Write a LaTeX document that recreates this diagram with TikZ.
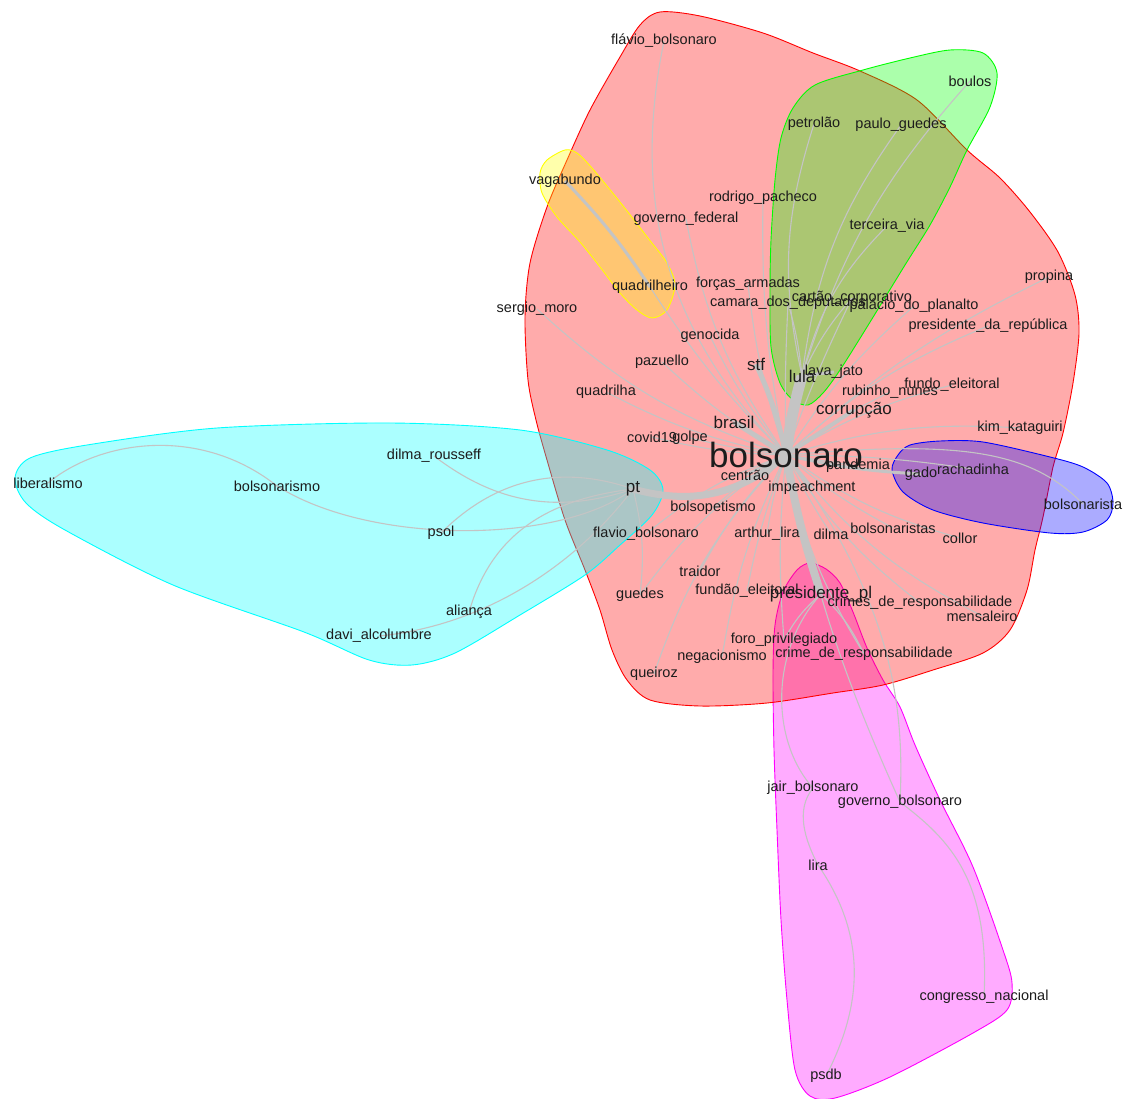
\documentclass[tikz,border=0pt]{standalone}
\usepackage{fontspec}
\setmainfont{Liberation Sans}
\definecolor{edgegray}{RGB}{196,196,196}
\definecolor{txt}{RGB}{28,28,28}
\definecolor{hred}{RGB}{255,0,0}
\definecolor{hgreen}{RGB}{0,255,0}
\definecolor{hyellow}{RGB}{255,255,0}
\definecolor{hcyan}{RGB}{0,255,255}
\definecolor{hblue}{RGB}{0,0,255}
\definecolor{hmag}{RGB}{255,0,255}
\pgfdeclarelayer{bg}
\pgfsetlayers{bg,main}
\begin{document}
\begin{tikzpicture}[x=1pt,y=-1pt,
  lbl/.style={font=\fontsize{14.5}{15}\selectfont, text=txt, inner sep=0pt},
  mid/.style={font=\fontsize{17}{18}\selectfont, text=txt, inner sep=0pt},
  big/.style={font=\fontsize{35}{36}\selectfont, text=txt, inner sep=0pt},
  edge/.style={draw=edgegray, line width=1.1pt},
  hull/.style={line width=0.9pt, fill opacity=0.33}
]
\useasboundingbox (0,0) rectangle (1129,1099);

% ---------- nodes ----------
\node[big] (bol) at (786,455) {bolsonaro};
\node[lbl] (flav) at (664,41) {flávio\_bolsonaro};
\node[lbl] (boul) at (970,81) {boulos};
\node[lbl] (petr) at (814,124) {petrolão};
\node[lbl] (paul) at (901,125) {paulo\_guedes};
\node[lbl] (vaga) at (565,181) {vagabundo};
\node[lbl] (rodp) at (763,198) {rodrigo\_pacheco};
\node[lbl] (govf) at (686,219) {governo\_federal};
\node[lbl] (terc) at (887,226) {terceira\_via};
\node[lbl] (prop) at (1049,277) {propina};
\node[lbl] (quah) at (650,287) {quadrilheiro};
\node[lbl] (forc) at (748,284) {forças\_armadas};
\node[lbl] (cart) at (852,298) {cartão\_corporativo};
\node[lbl] (cama) at (788,303) {camara\_dos\_deputados};
\node[lbl] (pala) at (914,306) {palácio\_do\_planalto};
\node[lbl] (serg) at (537,309) {sergio\_moro};
\node[lbl] (pres) at (988,326) {presidente\_da\_república};
\node[lbl] (geno) at (710,336) {genocida};
\node[lbl] (pazu) at (662,362) {pazuello};
\node[mid] (stf) at (756,364) {stf};
\node[mid] (lula) at (802,376) {lula};
\node[lbl] (lava) at (834,372) {lava\_jato};
\node[lbl] (quad) at (606,392) {quadrilha};
\node[lbl] (rubi) at (890,392) {rubinho\_nunes};
\node[lbl] (fund) at (952,385) {fundo\_eleitoral};
\node[mid] (corr) at (854,410) {corrupção};
\node[mid] (bras) at (734,422) {brasil};
\node[lbl] (kim) at (1020,428) {kim\_kataguiri};
\node[lbl] (dilr) at (434,456) {dilma\_rousseff};
\node[lbl] (covi) at (652,437) {covid19};
\node[lbl] (golp) at (690,438) {golpe};
\node[lbl] (pand) at (858,466) {pandemia};
\node[lbl] (gado) at (921,474) {gado};
\node[lbl] (rach) at (973,469) {rachadinha};
\node[lbl] (cent) at (745,475) {centrão};
\node[lbl] (libe) at (48,483) {liberalismo};
\node[lbl] (bism) at (277,486) {bolsonarismo};
\node[mid] (pt) at (633,489) {pt};
\node[lbl] (impe) at (812,488) {impeachment};
\node[lbl] (bsta) at (1083,504) {bolsonarista};
\node[lbl] (bpet) at (713,508) {bolsopetismo};
\node[lbl] (psol) at (441,533) {psol};
\node[lbl] (flab) at (646,534) {flavio\_bolsonaro};
\node[lbl] (arth) at (767,534) {arthur\_lira};
\node[lbl] (dilm) at (831,534) {dilma};
\node[lbl] (bsts) at (893,528) {bolsonaristas};
\node[lbl] (coll) at (960,538) {collor};
\node[lbl] (trai) at (700,571) {traidor};
\node[lbl] (gued) at (640,595) {guedes};
\node[lbl] (fune) at (747,591) {fundão\_eleitoral};
\node[mid] (prpl) at (821,594) {presidente\_pl};
\node[lbl] (crms) at (920,603) {crimes\_de\_responsabilidade};
\node[lbl] (mens) at (982,616) {mensaleiro};
\node[lbl] (alia) at (469,612) {aliança};
\node[lbl] (davi) at (379,636) {davi\_alcolumbre};
\node[lbl] (foro) at (784,640) {foro\_privilegiado};
\node[lbl] (nega) at (722,657) {negacionismo};
\node[lbl] (crm) at (864,654) {crime\_de\_responsabilidade};
\node[lbl] (quei) at (654,674) {queiroz};
\node[lbl] (jair) at (813,788) {jair\_bolsonaro};
\node[lbl] (govb) at (900,802) {governo\_bolsonaro};
\node[lbl] (lira) at (818,865) {lira};
\node[lbl] (cong) at (984,997) {congresso\_nacional};
\node[lbl] (psdb) at (826,1076) {psdb};

\begin{pgfonlayer}{bg}
\fill[white] (0,0) rectangle (1129,1099);
% ---------- hulls ----------
\filldraw[hull, draw=hmag, fill=hmag] plot[smooth cycle, tension=0.5] coordinates {
 (810,563) (797,570) (783,592) (775,625) (773,673) (774,750) (777,830) (781,920)
 (787,1000) (795,1070) (810,1096) (835,1098) (890,1077) (973,1033) (1007,1010)
 (1012,983) (1003,950) (973,867) (940,800) (915,745) (900,707) (883,680)
 (867,648) (853,612) (840,583) (826,569)};
\filldraw[hull, draw=hred, fill=hred] plot[smooth cycle, tension=0.5] coordinates {
 (660,12) (700,16) (763,33) (813,53) (860,71) (917,100) (967,150) (1000,178)
 (1030,212) (1058,252) (1075,295) (1079,333) (1073,383) (1063,433) (1053,467)
 (1043,517) (1035,550) (1027,590) (1010,630) (983,653) (933,670) (883,685)
 (833,693) (767,703) (700,706) (650,700) (627,680) (612,650) (600,610)
 (585,570) (565,520) (547,460) (536,420) (528,380) (525,317) (530,263)
 (547,207) (567,160) (590,110) (620,57) (640,25)};
\filldraw[hull, draw=hgreen, fill=hgreen] plot[smooth cycle, tension=0.5] coordinates {
 (863,70) (910,58) (950,50) (983,53) (997,73) (990,107) (967,150) (950,187)
 (930,225) (905,265) (867,327) (840,370) (823,393) (808,405) (793,400)
 (780,383) (771,347) (770,290) (771,240) (775,180) (781,138) (793,108) (815,85)};
\filldraw[hull, draw=hyellow, fill=hyellow] plot[smooth cycle, tension=0.5] coordinates {
 (565,150) (547,160) (540,173) (542,193) (557,217) (580,242) (600,267)
 (620,293) (637,310) (652,318) (667,310) (675,285) (667,263) (648,238)
 (620,202) (592,168) (577,153)};
\filldraw[hull, draw=hcyan, fill=hcyan] plot[smooth cycle, tension=0.5] coordinates {
 (15,478) (30,458) (87,445) (217,428) (390,423) (520,430) (607,450) (650,470)
 (663,490) (652,515) (620,545) (585,575) (520,615) (455,653) (412,665)
 (369,660) (304,632) (173,585) (65,530) (26,503)};
\filldraw[hull, draw=hblue, fill=hblue] plot[smooth cycle, tension=0.5] coordinates {
 (910,445) (940,441) (983,442) (1050,457) (1083,467) (1107,483) (1113,503)
 (1107,520) (1083,532) (1050,533) (983,523) (933,510) (903,492) (892,470) (898,455)};

% ---------- edges ----------
\foreach \n/\b in {flav/28, rodp/6, govf/12, forc/6, cama/2, serg/12, geno/6,
  pazu/6, quad/8, covi/6, golp/3, pand/0, kim/10, fund/8, rubi/5, pres/10,
  prop/8, pala/8, bpet/-6, flab/-10, arth/-5, dilm/-3, bsts/-6, coll/-10,
  trai/-8, gued/-10, fune/-5, crms/-10, mens/-12, foro/-5, nega/-8, crm/-10,
  quei/-12, govb/-6, rach/4, quah/6, cart/3}
  \draw[edge] (bol.center) to[bend left=\b] (\n.center);
\draw[edge] (bol.center) .. controls (960,440) and (1030,450) .. (bsta.center);
% thick edges
\draw[edge, line width=11pt] (bol.center) to[bend left=4] (lula.center);
\draw[edge, line width=7pt] (bol.center) to[bend left=28] (pt.center);
\draw[edge, line width=8pt] (bol.center) to[bend right=4] (prpl.center);
\draw[edge, line width=5pt] (bol.center) to[bend right=6] (stf.center);
\draw[edge, line width=5pt] (bol.center) to (bras.center);
\draw[edge, line width=4pt] (bol.center) to (corr.center);
\draw[edge, line width=3pt] (bol.center) to (impe.center);
\draw[edge, line width=3pt] (bol.center) to (cent.center);
\draw[edge, line width=3pt] (bol.center) to[bend right=5] (gado.center);
\draw[edge, line width=3pt] (vaga.center) to[bend left=5] (quah.center);
\draw[edge, line width=3pt] (lula.center) to (lava.center);
% lula cluster
\draw[edge] (lula.center) to[bend left=15] (petr.center);
\draw[edge] (lula.center) to[bend left=14] (paul.center);
\draw[edge] (lula.center) to[bend left=12] (boul.center);
\draw[edge] (lula.center) to[bend left=15] (terc.center);
\draw[edge] (lula.center) to[bend left=8] (cart.center);
\draw[edge] (lula.center) to[bend right=5] (cama.center);
% pt cluster
\draw[edge] (pt.center) to[bend left=28] (dilr.center);
\draw[edge] (pt.center) to[bend right=32] (psol.center);
\draw[edge] (pt.center) .. controls (560,545) and (370,545) .. (bism.center);
\draw[edge] (libe.center) .. controls (100,440) and (200,425) .. (bism.center);
\draw[edge] (alia.center) .. controls (490,540) and (540,500) .. (pt.center);
\draw[edge] (davi.center) .. controls (490,625) and (580,560) .. (pt.center);
\draw[edge] (pt.center) to[bend left=10] (gued.center);
% presidente_pl cluster
\draw[edge] (prpl.center) .. controls (770,650) and (770,740) .. (jair.center);
\draw[edge] (jair.center) .. controls (795,810) and (805,840) .. (lira.center);
\draw[edge] (lira.center) .. controls (870,940) and (860,1010) .. (psdb.center);
\draw[edge] (govb.center) .. controls (950,840) and (990,880) .. (cong.center);
\draw[edge] (bol.center) .. controls (890,600) and (905,700) .. (govb.center);
\draw[edge] (prpl.center) to[bend left=10] (crm.center);
\draw[edge] (prpl.center) to[bend right=10] (foro.center);
\end{pgfonlayer}
\end{tikzpicture}
\end{document}
